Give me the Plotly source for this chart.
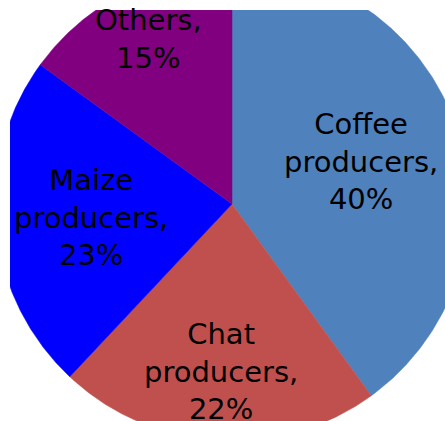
import numpy as np
import plotly.graph_objects as go

# Share of households by main livelihood
categories = ["Coffee producers", "Chat producers", "Maize producers", "Others"]
shares = [40, 22, 23, 15]
slice_colors = ["#4F81BD", "#C0504D", "#0000FF", "#800080"]

# how far out (as a fraction of the radius) each slice label sits
label_radius = [0.574, 0.71, 0.597, 0.78]

W, H = 445, 421
# pie centre and radius in screen pixels; the pie overflows the canvas
cx, cy, R = 232, 204, 237
m_left, m_top = 10, 10

fig = go.Figure()

total = float(sum(shares))
start = 0.0
annotations = []
for name, val, col, lr in zip(categories, shares, slice_colors, label_radius):
    sweep = 360.0 * val / total
    theta = np.radians(np.linspace(start, start + sweep, 240))
    xs = np.concatenate([[0.0], np.sin(theta), [0.0]])
    ys = np.concatenate([[0.0], np.cos(theta), [0.0]])
    fig.add_trace(go.Scatter(
        x=xs, y=ys, mode="lines", fill="toself",
        fillcolor=col, line=dict(color=col, width=0.5),
        name=name, hoverinfo="name", showlegend=False,
    ))
    mid = np.radians(start + sweep / 2)
    words = name.split(" ")
    text = "<br>".join(words) + ",<br>" + f"{val}%"
    annotations.append(dict(
        x=lr * np.sin(mid), y=lr * np.cos(mid), xref="x", yref="y",
        text=text, showarrow=False, xanchor="center", yanchor="middle",
        font=dict(family="DejaVu Sans", size=29, color="black"),
    ))
    start += sweep

x_range = [(m_left - cx) / R, (W - cx) / R]
y_range = [-(H - cy) / R, (cy - m_top) / R]

fig.update_layout(
    width=W, height=H,
    margin=dict(l=m_left, t=m_top, r=0, b=0, pad=0),
    paper_bgcolor="white", plot_bgcolor="white",
    xaxis=dict(range=x_range, visible=False, showgrid=False, zeroline=False, fixedrange=True),
    yaxis=dict(range=y_range, visible=False, showgrid=False, zeroline=False, fixedrange=True),
    annotations=annotations,
    showlegend=False,
)

fig.write_html("out.html")
